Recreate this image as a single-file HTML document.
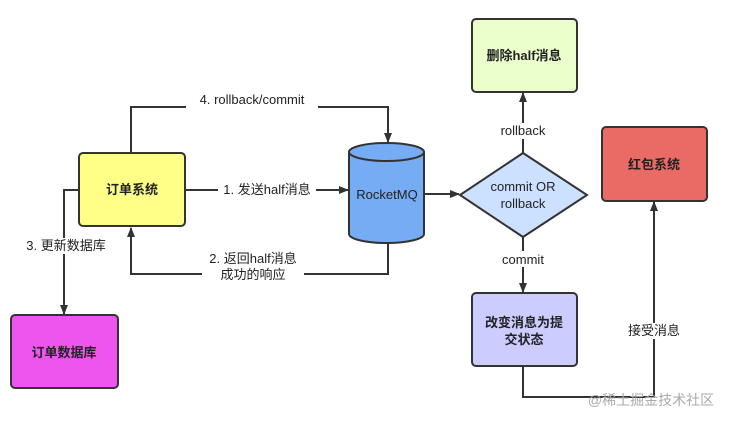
<!DOCTYPE html>
<html><head><meta charset="utf-8"><style>
body{margin:0;background:#fff;}
svg text{font-family:"Liberation Sans","Noto Sans CJK SC",sans-serif;font-size:13px;fill:#222;}
.b{font-weight:bold;}
</style></head><body>
<svg width="732" height="420" viewBox="0 0 732 420" xmlns="http://www.w3.org/2000/svg">
<defs><marker id="a" markerWidth="10" markerHeight="10" refX="9" refY="5" orient="auto" markerUnits="userSpaceOnUse"><path d="M0,1 L10,5 L0,9 Z" fill="#333"/></marker></defs>
<g stroke="#333" stroke-width="2" fill="none">
<polyline points="131,153 131,107 388,107 388,142" marker-end="url(#a)"/>
<line x1="185" y1="190" x2="348" y2="190" marker-end="url(#a)"/>
<polyline points="388,243 388,274 131,274 131,228" marker-end="url(#a)"/>
<polyline points="79,190 64,190 64,314" marker-end="url(#a)"/>
<line x1="424" y1="194" x2="459" y2="194" marker-end="url(#a)"/>
<line x1="523" y1="153" x2="523" y2="93" marker-end="url(#a)"/>
<line x1="523" y1="237" x2="523" y2="292" marker-end="url(#a)"/>
<polyline points="523,366 523,397 654,397 654,202" marker-end="url(#a)"/>
</g>
<g fill="#fff">
<rect x="186" y="92" width="132" height="16"/>
<rect x="218" y="182" width="98" height="16"/>
<rect x="202" y="250" width="102" height="32"/>
<rect x="20" y="238" width="92" height="16"/>
<rect x="495" y="123" width="56" height="16"/>
<rect x="497" y="251" width="52" height="16"/>
<rect x="625" y="323" width="58" height="16"/>
</g>
<rect x="79" y="153" width="106" height="73" rx="4" fill="#ffff88" stroke="#333" stroke-width="2"/>
<rect x="11" y="315" width="107" height="73" rx="4" fill="#ee55ee" stroke="#333" stroke-width="2"/>
<path d="M349,152 L349,234 A37.5,9 0 0 0 424,234 L424,152" fill="#76acf3" stroke="#333" stroke-width="2"/>
<ellipse cx="386.5" cy="152" rx="37.5" ry="9" fill="#76acf3" stroke="#333" stroke-width="2"/>
<polygon points="523,153 587,195 523,237 460,195" fill="#cce0ff" stroke="#333" stroke-width="2"/>
<rect x="472" y="19" width="105" height="73" rx="4" fill="#eaffcc" stroke="#333" stroke-width="2"/>
<rect x="472" y="293" width="105" height="73" rx="4" fill="#ccccff" stroke="#333" stroke-width="2"/>
<rect x="602" y="127" width="105" height="74" rx="4" fill="#ea6b66" stroke="#333" stroke-width="2"/>
<g text-anchor="middle">
<text class="b" x="132" y="194">订单系统</text>
<text class="b" x="64" y="357">订单数据库</text>
<text x="387" y="199">RocketMQ</text>
<text x="523" y="191">commit OR</text>
<text x="523" y="208">rollback</text>
<text class="b" x="524" y="60">删除half消息</text>
<text class="b" x="524" y="327">改变消息为提</text>
<text class="b" x="524" y="344">交状态</text>
<text class="b" x="654" y="169">红包系统</text>
<text x="252" y="104">4. rollback/commit</text>
<text x="267" y="194">1. 发送half消息</text>
<text x="253" y="263">2. 返回half消息</text>
<text x="253" y="279">成功的响应</text>
<text x="66" y="250">3. 更新数据库</text>
<text x="523" y="135">rollback</text>
<text x="523" y="264">commit</text>
<text x="654" y="335">接受消息</text>
<text x="651" y="405" style="font-size:14px;fill:#aaa">@稀土掘金技术社区</text>
</g>
</svg>
</body></html>
